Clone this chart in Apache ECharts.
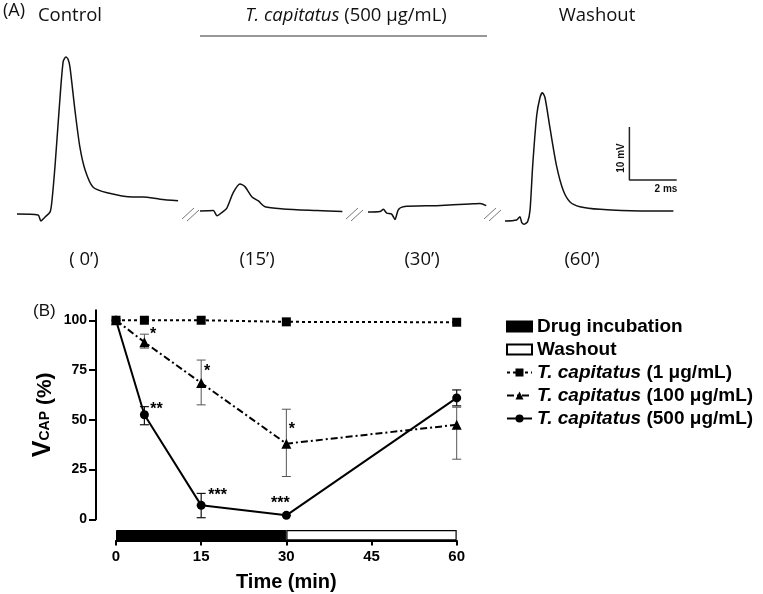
<!DOCTYPE html>
<html><head><meta charset="utf-8">
<script src="https://cdn.jsdelivr.net/npm/echarts@6/dist/echarts.min.js"></script>
<style>html,body{margin:0;padding:0;background:#fff}#c{width:763px;height:594px}</style>
</head><body><div id="c"></div>
<script>
// ---------- Panel A: compound action potential traces [time ms, voltage mV] ----------
const traceControl = [[0,0],[0.89,-0.2],[1.01,-1.3],[1.18,-0.6],[1.40,0.4],[1.48,2.6],[1.61,9.2],[1.78,19.6],[1.95,28.7],[2.07,29.6],[2.16,29.2],[2.24,27.7],[2.45,19.6],[2.66,12.6],[2.88,8.3],[3.21,5.1],[3.81,4.0],[4.90,3.2],[5.33,3.2],[6.05,2.8],[6.81,2.5]];
const trace15 = [[0,0],[0.56,0.1],[0.72,-0.9],[0.92,-0.3],[1.13,0.5],[1.41,3.5],[1.69,5.1],[1.90,4.6],[2.19,2.7],[2.47,1.9],[2.75,0.8],[3.52,0.4],[4.93,0.1],[6.02,-0.1]];
const trace30 = [[0,0],[0.51,0.1],[0.65,0.5],[0.79,-0.2],[1.0,-0.4],[1.14,-1.4],[1.28,0.4],[1.49,1.0],[2.90,1.2],[4.31,1.5],[4.74,1.6],[5.0,1.2]];
const trace60 = [[0,0],[0.49,0.2],[0.63,0.8],[0.71,-0.3],[0.82,-0.6],[0.96,-0.1],[1.06,2.1],[1.17,10.4],[1.34,19.9],[1.48,23.3],[1.58,24.2],[1.69,23.3],[1.90,17.6],[2.18,10.4],[2.46,5.8],[2.75,3.6],[3.17,2.7],[4.02,2.2],[5.71,1.9],[7.12,1.9]];
const scaleBar = [[5.26,17.74],[5.26,7.74],[7.26,7.74]]; // 10 mV x 2 ms
const traceLabels = ['( 0’)','(15’)','(30’)','(60’)'];

// ---------- Panel B ----------
const timeMin = [0,5,15,30,60];
const v1 = [100,100,100,99.2,99];
const v100 = [100,89,68.5,38,47.5];
const v100Lo = [null,86,57.5,21.5,30.2];
const v100Hi = [null,93,80,55.3,56.3];
const v500 = [100,52.5,7,2,61];
const v500Lo = [null,47.5,0.8,null,57];
const v500Hi = [null,56.6,13,null,65];
const sig100 = ['','*','*','*',''];
const sig500 = ['','**','***','***',''];
const yTicks = [0,25,50,75,100];
const xTicks = [0,15,30,45,60];
const incubationMin = 30;
const washoutMin = 30;
const names = ['T. capitatus (1 μg/mL)','T. capitatus (100 μg/mL)','T. capitatus (500 μg/mL)'];

// layout / style (not data)
const sigOff100 = [[0,0],[8.6,-8],[6,-11.5],[5.4,-14.5],[0,0]];
const sigOff500 = [[0,0],[12,-5],[16.5,-10],[-6,-11.5],[0,0]];
const PX_MS = 23.65, PX_MV = 5.3, T_MAX = 8, V_MIN = -5, V_MAX = 35;
function traceGrid(left, baseY){ return {left:left, top: baseY - V_MAX*PX_MV, width: T_MAX*PX_MS, height:(V_MAX-V_MIN)*PX_MV}; }
const traceLefts = [17,200,368,505];
const traceBases = [214,211,212,221];
const traceData = [traceControl, trace15, trace30, trace60];

// main plot: y axis line sits 20px left of time 0
const PX_MIN = 340.7/60;
const grids = traceLefts.map((l,i)=>traceGrid(l, traceBases[i]));
grids.push({left:96, top:310.3, width:360.7, height:209});
grids.push({left:116, top:530, width:340.7, height:10.5});

const xAxes = [], yAxes = [];
for (let i=0;i<4;i++){
  xAxes.push({gridIndex:i, type:'value', min:0, max:T_MAX, show:false});
  yAxes.push({gridIndex:i, type:'value', min:V_MIN, max:V_MAX, show:false});
}
const FONT = 'Liberation Sans';
xAxes.push({gridIndex:4, type:'value', min:-20/PX_MIN, max:60, show:false});
yAxes.push({gridIndex:4, type:'value', min:0, max:105,
  axisLine:{show:true, onZero:false, lineStyle:{color:'#000', width:2}},
  axisTick:{show:true, length:7, customValues:yTicks, lineStyle:{color:'#000', width:2}},
  axisLabel:{customValues:yTicks, margin:9, fontFamily:FONT, fontWeight:'bold', fontSize:14, color:'#000'},
  splitLine:{show:false},
  name:'{v|V}{s|CAP}{p| (%)}', nameLocation:'middle', nameRotate:90, nameGap:40,
  nameTextStyle:{rich:{
    v:{fontFamily:FONT, fontWeight:'bold', fontSize:25, color:'#000', verticalAlign:'bottom', lineHeight:26},
    s:{fontFamily:FONT, fontWeight:'bold', fontSize:14, color:'#000', verticalAlign:'bottom', lineHeight:26, padding:[0,0,4,0]},
    p:{fontFamily:FONT, fontWeight:'bold', fontSize:21, color:'#000', verticalAlign:'bottom', lineHeight:26}
  }}
});
xAxes.push({gridIndex:5, type:'value', min:0, max:60, interval:15,
  axisLine:{show:true, onZero:false, lineStyle:{color:'#000', width:2}},
  axisTick:{show:true, length:5, lineStyle:{color:'#000', width:2}},
  axisLabel:{margin:9, fontFamily:FONT, fontWeight:'bold', fontSize:15, color:'#000'},
  splitLine:{show:false},
  name:'Time (min)', nameLocation:'middle', nameGap:32,
  nameTextStyle:{fontFamily:FONT, fontWeight:'bold', fontSize:20, color:'#000'}
});
yAxes.push({gridIndex:5, type:'category', data:['phase'], show:false});

const series = [];
traceData.forEach((d,i)=>{
  series.push({type:'line', xAxisIndex:i, yAxisIndex:i, data:d, showSymbol:false, smooth:0.25,
    lineStyle:{color:'#111', width:1.5}, silent:true, clip:false});
});
series.push({type:'line', xAxisIndex:3, yAxisIndex:3, data:scaleBar, showSymbol:false,
  lineStyle:{color:'#222', width:1.5}, silent:true, clip:false});

function errSeries(lo, hi, color, width){
  const data = [];
  timeMin.forEach((t,i)=>{ if (lo[i]!=null) data.push([t, lo[i], hi[i]]); });
  return {type:'custom', xAxisIndex:4, yAxisIndex:4, data:data, silent:true, z:2,
    encode:{x:0, y:[1,2]},
    renderItem:function(params, api){
      const x = api.value(0);
      const a = api.coord([x, api.value(1)]), b = api.coord([x, api.value(2)]);
      const w = 4.5;
      const st = {stroke:color, lineWidth:width};
      return {type:'group', children:[
        {type:'line', shape:{x1:a[0], y1:a[1], x2:b[0], y2:b[1]}, style:st},
        {type:'line', shape:{x1:a[0]-w, y1:a[1], x2:a[0]+w, y2:a[1]}, style:st},
        {type:'line', shape:{x1:b[0]-w, y1:b[1], x2:b[0]+w, y2:b[1]}, style:st}
      ]};
    }};
}
series.push(errSeries(v100Lo, v100Hi, '#555', 1));
series.push(errSeries(v500Lo, v500Hi, '#111', 1.2));

function sigSeries(vals, sig, off){
  const data = [];
  timeMin.forEach((t,i)=>{ if (sig[i]) data.push([t, vals[i], i]); });
  return {type:'custom', xAxisIndex:4, yAxisIndex:4, data:data, silent:true, z:5,
    renderItem:function(params, api){
      const i = api.value(2);
      const p = api.coord([api.value(0), api.value(1)]);
      return {type:'text', x:p[0]+off[i][0], y:p[1]+off[i][1],
        style:{text:sig[i], fontFamily:FONT, fontWeight:'bold', fontSize:16, fill:'#000', align:'center', verticalAlign:'middle'}};
    }};
}
series.push(sigSeries(v100, sig100, sigOff100));
series.push(sigSeries(v500, sig500, sigOff500));

const zip = arr => timeMin.map((t,i)=>[t, arr[i]]);
series.push({name:names[0], type:'line', xAxisIndex:4, yAxisIndex:4, data:zip(v1), symbol:'rect', symbolSize:9,
  lineStyle:{color:'#000', width:2, type:[3,3]}, itemStyle:{color:'#000'}, z:4, clip:false});
series.push({name:names[1], type:'line', xAxisIndex:4, yAxisIndex:4, data:zip(v100), symbol:'triangle', symbolSize:10,
  lineStyle:{color:'#000', width:2, type:[7,3,2,3]}, itemStyle:{color:'#000'}, z:4, clip:false});
series.push({name:names[2], type:'line', xAxisIndex:4, yAxisIndex:4, data:zip(v500), symbol:'circle', symbolSize:9,
  lineStyle:{color:'#000', width:2}, itemStyle:{color:'#000'}, z:4, clip:false});

series.push({name:'Drug incubation', type:'bar', xAxisIndex:5, yAxisIndex:5, stack:'phase', data:[incubationMin],
  barWidth:'100%', itemStyle:{color:'#000', borderColor:'#000', borderWidth:1}, silent:true});
series.push({name:'Washout', type:'bar', xAxisIndex:5, yAxisIndex:5, stack:'phase', data:[washoutMin],
  barWidth:'100%', itemStyle:{color:'#fff', borderColor:'#000', borderWidth:1.2}, silent:true});

const OS = 'Open Sans';
const TS = 18.5;
const graphic = [
  {type:'text', left:3, top:2, style:{text:'(A)', fontFamily:OS, fontSize:18, fill:'#111'}},
  {type:'text', x:70, y:16, style:{text:'Control', fontFamily:OS, fontSize:TS, fill:'#111', align:'center', verticalAlign:'middle'}},
  {type:'text', x:346, y:16, style:{text:'{i|T. capitatus} (500 μg/mL)', fontFamily:OS, fontSize:TS, fill:'#111', align:'center', verticalAlign:'middle',
     rich:{i:{fontFamily:OS, fontSize:TS, fontStyle:'italic', fill:'#111'}}}},
  {type:'line', shape:{x1:200, y1:36, x2:487, y2:36}, style:{stroke:'#333', lineWidth:1}},
  {type:'text', x:597, y:16, style:{text:'Washout', fontFamily:OS, fontSize:TS, fill:'#111', align:'center', verticalAlign:'middle'}},
  {type:'text', x:621, y:158, rotation:Math.PI/2, style:{text:'10 mV', fontFamily:FONT, fontWeight:'bold', fontSize:10, fill:'#111', align:'center', verticalAlign:'middle'}},
  {type:'text', x:666, y:189, style:{text:'2 ms', fontFamily:FONT, fontWeight:'bold', fontSize:10, fill:'#111', align:'center', verticalAlign:'middle'}},
  {type:'text', left:33, top:303, style:{text:'(B)', fontFamily:FONT, fontSize:17, fill:'#111'}}
];
const labelX = [84,257,422,582];
traceLabels.forEach((t,i)=>graphic.push({type:'text', x:labelX[i], y:260,
  style:{text:t, fontFamily:OS, fontSize:TS, fill:'#111', align:'center', verticalAlign:'middle'}}));
[182,346,484].forEach(x0=>{
  graphic.push({type:'line', shape:{x1:x0, y1:219, x2:x0+12, y2:208}, style:{stroke:'#777', lineWidth:1}});
  graphic.push({type:'line', shape:{x1:x0+5, y1:221, x2:x0+17, y2:210}, style:{stroke:'#777', lineWidth:1}});
});

const chart = echarts.init(document.getElementById('c'), null, {renderer:'canvas'});
chart.setOption({
  animation:false,
  backgroundColor:'#fff',
  textStyle:{fontFamily:FONT},
  grid:grids, xAxis:xAxes, yAxis:yAxes, series:series, graphic:graphic,
  legend:{orient:'vertical', left:501, top:312, itemWidth:25, itemHeight:10, itemGap:4, selectedMode:false,
    data:[{name:'Drug incubation', icon:'rect'},{name:'Washout', icon:'rect'}, names[0], names[1], names[2]],
    formatter:function(n){ return n.indexOf('T. capitatus')===0 ? '{i|T. capitatus}{b|' + n.slice(12) + '}' : '{b|' + n + '}'; },
    textStyle:{lineHeight:19, rich:{
      i:{fontFamily:FONT, fontWeight:'bold', fontStyle:'italic', fontSize:19, color:'#000', lineHeight:19},
      b:{fontFamily:FONT, fontWeight:'bold', fontSize:19, color:'#000', lineHeight:19}
    }}
  }
});
</script></body></html>
